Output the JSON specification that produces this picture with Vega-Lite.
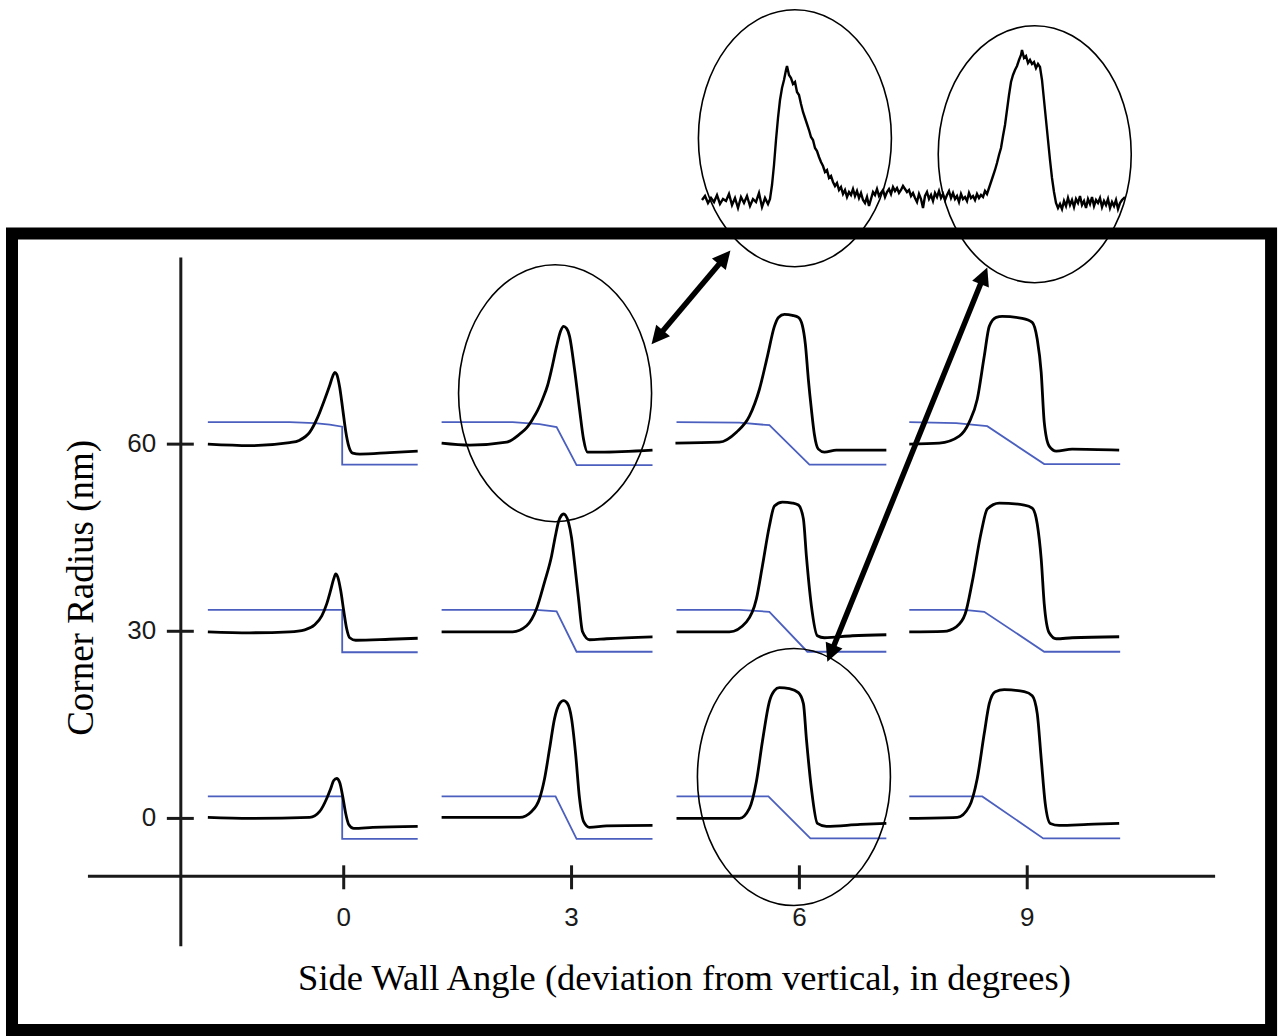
{
"$schema": "https://vega.github.io/schema/vega-lite/v6.json",
"width": 1278, "height": 1036,
"autosize": {"type": "fit", "contains": "padding"},
"padding": 0,
"background": "white",
"config": {"view": {"stroke": null}},
"datasets": {
"frame": [{"x": -4.368, "y": 93.76, "x2": 12.211, "y2": -33.92}],
"rules": [
{"x": -2.145, "y": 89.92, "x2": -2.145, "y2": -20.48},
{"x": -3.368, "y": -9.28, "x2": 11.474, "y2": -9.28},
{"x": -2.329, "y": 0, "x2": -1.974, "y2": 0},
{"x": -2.329, "y": 30, "x2": -1.974, "y2": 30},
{"x": -2.329, "y": 60, "x2": -1.974, "y2": 60},
{"x": 0, "y": -7.52, "x2": 0, "y2": -11.36},
{"x": 3, "y": -7.52, "x2": 3, "y2": -11.36},
{"x": 6, "y": -7.52, "x2": 6, "y2": -11.36},
{"x": 9, "y": -7.52, "x2": 9, "y2": -11.36}
],
"ylabels": [{"t": "60", "x": -2.47, "y": 60}, {"t": "30", "x": -2.47, "y": 30}, {"t": "0", "x": -2.47, "y": 0}],
"xlabels": [{"t": "0", "x": 0, "y": -16}, {"t": "3", "x": 3, "y": -16}, {"t": "6", "x": 6, "y": -16}, {"t": "9", "x": 9, "y": -16}],
"xtitle": [{"t": "Side Wall Angle (deviation from vertical, in degrees)", "x": 4.487, "y": -27.5}],
"ytitle": [{"t": "Corner Radius (nm)", "x": -3.447, "y": 36.96}],
"ellipses": [{"x": 5.941, "y": 109.04}, {"x": 9.099, "y": 106.48}, {"x": 2.783, "y": 68.16}, {"x": 5.928, "y": 6.64}],
"shafts": [{"x": 4.137, "y": 77.23, "x2": 5.008, "y2": 89.81}, {"x": 6.418, "y": 26.6, "x2": 8.424, "y2": 86.84}],
"heads": [{"x": 5.092, "y": 91.04, "a": 40}, {"x": 4.053, "y": 76.0, "a": 220}, {"x": 8.474, "y": 88.32, "a": 22}, {"x": 6.368, "y": 25.12, "a": 202}],
"black": [
{"c":"r60c0","x":-1.789,"y":60.0},{"c":"r60c0","x":-1.237,"y":59.76},{"c":"r60c0","x":-0.711,"y":60.24},{"c":"r60c0","x":-0.579,"y":60.64},{"c":"r60c0","x":-0.447,"y":61.92},{"c":"r60c0","x":-0.342,"y":64.32},{"c":"r60c0","x":-0.25,"y":67.2},{"c":"r60c0","x":-0.184,"y":69.44},{"c":"r60c0","x":-0.145,"y":70.88},{"c":"r60c0","x":-0.118,"y":71.52},{"c":"r60c0","x":-0.092,"y":71.2},{"c":"r60c0","x":-0.053,"y":69.12},{"c":"r60c0","x":-0.013,"y":65.6},{"c":"r60c0","x":0.026,"y":62.08},{"c":"r60c0","x":0.066,"y":59.68},{"c":"r60c0","x":0.118,"y":58.56},{"c":"r60c0","x":0.211,"y":58.4},{"c":"r60c0","x":0.605,"y":58.64},{"c":"r60c0","x":0.974,"y":58.88},
{"c":"r30c0","x":-1.789,"y":29.92},{"c":"r30c0","x":-1.237,"y":29.76},{"c":"r30c0","x":-0.711,"y":29.92},{"c":"r30c0","x":-0.513,"y":30.24},{"c":"r30c0","x":-0.382,"y":31.04},{"c":"r30c0","x":-0.289,"y":32.48},{"c":"r30c0","x":-0.224,"y":34.4},{"c":"r30c0","x":-0.171,"y":36.64},{"c":"r30c0","x":-0.132,"y":38.4},{"c":"r30c0","x":-0.105,"y":39.2},{"c":"r30c0","x":-0.079,"y":38.72},{"c":"r30c0","x":-0.039,"y":36.48},{"c":"r30c0","x":0,"y":33.28},{"c":"r30c0","x":0.039,"y":30.4},{"c":"r30c0","x":0.079,"y":28.96},{"c":"r30c0","x":0.158,"y":28.56},{"c":"r30c0","x":0.605,"y":28.72},{"c":"r30c0","x":0.974,"y":28.88},
{"c":"r0c0","x":-1.789,"y":0.16},{"c":"r0c0","x":-1.237,"y":0},{"c":"r0c0","x":-0.447,"y":0.16},{"c":"r0c0","x":-0.316,"y":1.12},{"c":"r0c0","x":-0.224,"y":3.2},{"c":"r0c0","x":-0.171,"y":4.8},{"c":"r0c0","x":-0.132,"y":6.08},{"c":"r0c0","x":-0.092,"y":6.4},{"c":"r0c0","x":-0.053,"y":5.76},{"c":"r0c0","x":-0.013,"y":3.52},{"c":"r0c0","x":0.026,"y":0.8},{"c":"r0c0","x":0.066,"y":-0.96},{"c":"r0c0","x":0.132,"y":-1.6},{"c":"r0c0","x":0.382,"y":-1.44},{"c":"r0c0","x":0.974,"y":-1.28},
{"c":"r60c3","x":1.289,"y":60.16},{"c":"r60c3","x":1.658,"y":59.84},{"c":"r60c3","x":2.145,"y":60.32},{"c":"r60c3","x":2.316,"y":61.6},{"c":"r60c3","x":2.408,"y":62.6},{"c":"r60c3","x":2.487,"y":64.0},{"c":"r60c3","x":2.553,"y":65.4},{"c":"r60c3","x":2.618,"y":67.2},{"c":"r60c3","x":2.684,"y":69.4},{"c":"r60c3","x":2.737,"y":72.0},{"c":"r60c3","x":2.803,"y":75.68},{"c":"r60c3","x":2.855,"y":78.08},{"c":"r60c3","x":2.895,"y":78.88},{"c":"r60c3","x":2.934,"y":78.56},{"c":"r60c3","x":2.974,"y":77.28},{"c":"r60c3","x":3.039,"y":72.0},{"c":"r60c3","x":3.105,"y":65.6},{"c":"r60c3","x":3.158,"y":60.8},{"c":"r60c3","x":3.211,"y":58.72},{"c":"r60c3","x":3.368,"y":58.72},{"c":"r60c3","x":4.066,"y":59.04},
{"c":"r30c3","x":1.289,"y":29.92},{"c":"r30c3","x":2.224,"y":29.92},{"c":"r30c3","x":2.408,"y":30.88},{"c":"r30c3","x":2.539,"y":33.6},{"c":"r30c3","x":2.645,"y":37.92},{"c":"r30c3","x":2.737,"y":42.08},{"c":"r30c3","x":2.789,"y":45.4},{"c":"r30c3","x":2.829,"y":47.6},{"c":"r30c3","x":2.868,"y":48.6},{"c":"r30c3","x":2.895,"y":48.8},{"c":"r30c3","x":2.921,"y":48.6},{"c":"r30c3","x":2.961,"y":47.4},{"c":"r30c3","x":3.0,"y":45.0},{"c":"r30c3","x":3.039,"y":41.0},{"c":"r30c3","x":3.092,"y":35.2},{"c":"r30c3","x":3.145,"y":29.92},{"c":"r30c3","x":3.237,"y":28.64},{"c":"r30c3","x":3.461,"y":28.8},{"c":"r30c3","x":4.066,"y":29.12},
{"c":"r0c3","x":1.289,"y":0.16},{"c":"r0c3","x":2.316,"y":0.16},{"c":"r0c3","x":2.474,"y":1.12},{"c":"r0c3","x":2.579,"y":3.2},{"c":"r0c3","x":2.645,"y":6.4},{"c":"r0c3","x":2.711,"y":11.2},{"c":"r0c3","x":2.776,"y":16.0},{"c":"r0c3","x":2.842,"y":18.4},{"c":"r0c3","x":2.895,"y":18.88},{"c":"r0c3","x":2.947,"y":18.4},{"c":"r0c3","x":3.0,"y":16.0},{"c":"r0c3","x":3.053,"y":10.4},{"c":"r0c3","x":3.105,"y":3.2},{"c":"r0c3","x":3.158,"y":-0.48},{"c":"r0c3","x":3.237,"y":-1.44},{"c":"r0c3","x":3.461,"y":-1.2},{"c":"r0c3","x":4.066,"y":-1.12},
{"c":"r60c6","x":4.368,"y":60.16},{"c":"r60c6","x":4.947,"y":60.32},{"c":"r60c6","x":5.171,"y":61.92},{"c":"r60c6","x":5.342,"y":64.48},{"c":"r60c6","x":5.474,"y":68.8},{"c":"r60c6","x":5.579,"y":74.08},{"c":"r60c6","x":5.671,"y":78.88},{"c":"r60c6","x":5.724,"y":80.32},{"c":"r60c6","x":5.803,"y":80.8},{"c":"r60c6","x":5.908,"y":80.64},{"c":"r60c6","x":5.987,"y":80.32},{"c":"r60c6","x":6.039,"y":79.04},{"c":"r60c6","x":6.079,"y":76.0},{"c":"r60c6","x":6.118,"y":70.4},{"c":"r60c6","x":6.158,"y":65.6},{"c":"r60c6","x":6.197,"y":61.6},{"c":"r60c6","x":6.25,"y":59.2},{"c":"r60c6","x":6.329,"y":58.72},{"c":"r60c6","x":6.487,"y":59.04},{"c":"r60c6","x":7.145,"y":59.04},
{"c":"r30c6","x":4.382,"y":29.92},{"c":"r30c6","x":5.079,"y":29.92},{"c":"r30c6","x":5.303,"y":31.52},{"c":"r30c6","x":5.434,"y":35.2},{"c":"r30c6","x":5.513,"y":40.48},{"c":"r30c6","x":5.605,"y":46.88},{"c":"r30c6","x":5.671,"y":50.08},{"c":"r30c6","x":5.776,"y":50.72},{"c":"r30c6","x":5.908,"y":50.56},{"c":"r30c6","x":5.987,"y":50.24},{"c":"r30c6","x":6.053,"y":48.0},{"c":"r30c6","x":6.092,"y":42.08},{"c":"r30c6","x":6.158,"y":34.08},{"c":"r30c6","x":6.237,"y":29.28},{"c":"r30c6","x":6.329,"y":28.96},{"c":"r30c6","x":6.697,"y":29.28},{"c":"r30c6","x":7.145,"y":29.44},
{"c":"r0c6","x":4.382,"y":0},{"c":"r0c6","x":5.211,"y":0},{"c":"r0c6","x":5.342,"y":1.6},{"c":"r0c6","x":5.434,"y":5.92},{"c":"r0c6","x":5.513,"y":12.32},{"c":"r0c6","x":5.605,"y":18.72},{"c":"r0c6","x":5.671,"y":20.48},{"c":"r0c6","x":5.737,"y":20.96},{"c":"r0c6","x":5.868,"y":20.8},{"c":"r0c6","x":5.987,"y":20.16},{"c":"r0c6","x":6.053,"y":18.4},{"c":"r0c6","x":6.092,"y":12.8},{"c":"r0c6","x":6.158,"y":4.8},{"c":"r0c6","x":6.237,"y":-0.8},{"c":"r0c6","x":6.355,"y":-1.28},{"c":"r0c6","x":6.8,"y":-0.96},{"c":"r0c6","x":7.145,"y":-0.8},
{"c":"r60c9","x":7.447,"y":60.0},{"c":"r60c9","x":7.842,"y":60.16},{"c":"r60c9","x":8.105,"y":61.28},{"c":"r60c9","x":8.237,"y":63.52},{"c":"r60c9","x":8.342,"y":67.2},{"c":"r60c9","x":8.434,"y":74.08},{"c":"r60c9","x":8.5,"y":78.88},{"c":"r60c9","x":8.592,"y":80.32},{"c":"r60c9","x":8.671,"y":80.48},{"c":"r60c9","x":8.934,"y":80.16},{"c":"r60c9","x":9.066,"y":79.52},{"c":"r60c9","x":9.132,"y":76.8},{"c":"r60c9","x":9.184,"y":71.52},{"c":"r60c9","x":9.224,"y":63.52},{"c":"r60c9","x":9.289,"y":59.68},{"c":"r60c9","x":9.382,"y":58.88},{"c":"r60c9","x":9.592,"y":59.2},{"c":"r60c9","x":10.211,"y":59.04},
{"c":"r30c9","x":7.447,"y":29.92},{"c":"r30c9","x":7.9,"y":30.0},{"c":"r30c9","x":8.066,"y":30.72},{"c":"r30c9","x":8.184,"y":32.8},{"c":"r30c9","x":8.276,"y":37.92},{"c":"r30c9","x":8.395,"y":45.92},{"c":"r30c9","x":8.474,"y":49.6},{"c":"r30c9","x":8.632,"y":50.56},{"c":"r30c9","x":8.961,"y":50.24},{"c":"r30c9","x":9.066,"y":49.76},{"c":"r30c9","x":9.132,"y":47.2},{"c":"r30c9","x":9.184,"y":41.6},{"c":"r30c9","x":9.224,"y":34.4},{"c":"r30c9","x":9.289,"y":29.76},{"c":"r30c9","x":9.382,"y":28.8},{"c":"r30c9","x":9.592,"y":28.96},{"c":"r30c9","x":10.211,"y":29.12},
{"c":"r0c9","x":7.447,"y":0},{"c":"r0c9","x":8.079,"y":0.16},{"c":"r0c9","x":8.237,"y":1.92},{"c":"r0c9","x":8.342,"y":6.4},{"c":"r0c9","x":8.434,"y":13.6},{"c":"r0c9","x":8.5,"y":18.4},{"c":"r0c9","x":8.579,"y":20.32},{"c":"r0c9","x":8.697,"y":20.64},{"c":"r0c9","x":8.961,"y":20.32},{"c":"r0c9","x":9.066,"y":19.68},{"c":"r0c9","x":9.132,"y":16.8},{"c":"r0c9","x":9.184,"y":9.6},{"c":"r0c9","x":9.237,"y":2.4},{"c":"r0c9","x":9.303,"y":-0.8},{"c":"r0c9","x":9.421,"y":-1.12},{"c":"r0c9","x":9.8,"y":-0.96},{"c":"r0c9","x":10.211,"y":-0.8}
],
"blue": [
{"c":"b60c0","x":-1.789,"y":63.52},{"c":"b60c0","x":-0.711,"y":63.52},{"c":"b60c0","x":-0.382,"y":63.36},{"c":"b60c0","x":-0.184,"y":63.12},{"c":"b60c0","x":-0.02,"y":62.8},{"c":"b60c0","x":-0.02,"y":56.72},{"c":"b60c0","x":0.974,"y":56.72},
{"c":"b30c0","x":-1.789,"y":33.44},{"c":"b30c0","x":-0.02,"y":33.44},{"c":"b30c0","x":-0.02,"y":26.64},{"c":"b30c0","x":0.974,"y":26.64},
{"c":"b0c0","x":-1.789,"y":3.52},{"c":"b0c0","x":-0.02,"y":3.52},{"c":"b0c0","x":-0.02,"y":-3.28},{"c":"b0c0","x":0.974,"y":-3.28},
{"c":"b60c3","x":1.289,"y":63.52},{"c":"b60c3","x":2.224,"y":63.52},{"c":"b60c3","x":2.579,"y":63.2},{"c":"b60c3","x":2.803,"y":62.72},{"c":"b60c3","x":3.066,"y":56.64},{"c":"b60c3","x":4.066,"y":56.64},
{"c":"b30c3","x":1.289,"y":33.44},{"c":"b30c3","x":2.53,"y":33.44},{"c":"b30c3","x":2.803,"y":33.2},{"c":"b30c3","x":3.066,"y":26.72},{"c":"b30c3","x":4.066,"y":26.72},
{"c":"b0c3","x":1.289,"y":3.52},{"c":"b0c3","x":2.789,"y":3.52},{"c":"b0c3","x":3.066,"y":-3.28},{"c":"b0c3","x":4.066,"y":-3.28},
{"c":"b60c6","x":4.382,"y":63.52},{"c":"b60c6","x":5.211,"y":63.44},{"c":"b60c6","x":5.605,"y":63.04},{"c":"b60c6","x":6.132,"y":56.72},{"c":"b60c6","x":7.145,"y":56.72},
{"c":"b30c6","x":4.382,"y":33.44},{"c":"b30c6","x":5.211,"y":33.44},{"c":"b30c6","x":5.605,"y":33.12},{"c":"b30c6","x":6.105,"y":26.72},{"c":"b30c6","x":7.145,"y":26.72},
{"c":"b0c6","x":4.382,"y":3.52},{"c":"b0c6","x":5.592,"y":3.52},{"c":"b0c6","x":6.145,"y":-3.2},{"c":"b0c6","x":7.145,"y":-3.2},
{"c":"b60c9","x":7.447,"y":63.52},{"c":"b60c9","x":8.066,"y":63.36},{"c":"b60c9","x":8.474,"y":62.88},{"c":"b60c9","x":9.224,"y":56.8},{"c":"b60c9","x":10.224,"y":56.8},
{"c":"b30c9","x":7.447,"y":33.44},{"c":"b30c9","x":8.171,"y":33.44},{"c":"b30c9","x":8.434,"y":33.12},{"c":"b30c9","x":9.224,"y":26.72},{"c":"b30c9","x":10.224,"y":26.72},
{"c":"b0c9","x":7.447,"y":3.52},{"c":"b0c9","x":8.408,"y":3.52},{"c":"b0c9","x":9.211,"y":-3.2},{"c":"b0c9","x":10.224,"y":-3.2}
],
"trace": [
{"x":2,"y":10},{"x":5,"y":14},{"x":8,"y":7},{"x":11,"y":12},{"x":14,"y":8},{"x":17,"y":15},{"x":20,"y":6},{"x":23,"y":11},{"x":26,"y":9},{"x":29,"y":16},{"x":32,"y":5},{"x":35,"y":12},{"x":38,"y":2},{"x":41,"y":13},{"x":44,"y":7},{"x":47,"y":14},{"x":50,"y":4},{"x":53,"y":11},{"x":56,"y":8},{"x":59,"y":17},{"x":62,"y":3},{"x":65,"y":12},{"x":68,"y":6},{"x":70,"y":11},
{"x":72,"y":25},{"x":74,"y":45},{"x":76,"y":70},{"x":78,"y":92},{"x":80,"y":110},{"x":82,"y":122},{"x":84,"y":130},{"x":86,"y":140},{"x":87,"y":144},{"x":89,"y":135},{"x":91,"y":132},{"x":93,"y":126},{"x":95,"y":128},{"x":97,"y":118},{"x":99,"y":115},{"x":101,"y":106},{"x":103,"y":98},{"x":105,"y":92},{"x":107,"y":86},{"x":109,"y":80},{"x":111,"y":73},{"x":113,"y":70},{"x":115,"y":62},{"x":117,"y":59},{"x":119,"y":53},{"x":121,"y":48},{"x":123,"y":44},{"x":125,"y":38},{"x":127,"y":40},{"x":129,"y":32},{"x":131,"y":34},{"x":133,"y":28},{"x":135,"y":24},{"x":137,"y":27},{"x":139,"y":20},{"x":141,"y":23},{"x":143,"y":16},{"x":145,"y":20},{"x":147,"y":13},{"x":149,"y":18},{"x":151,"y":15},{"x":153,"y":21},{"x":155,"y":14},{"x":157,"y":19},{"x":159,"y":12},{"x":161,"y":17},{"x":163,"y":10},{"x":165,"y":7},{"x":167,"y":13},{"x":169,"y":4},{"x":171,"y":11},{"x":173,"y":18},{"x":175,"y":15},{"x":177,"y":21},{"x":179,"y":14},{"x":181,"y":17},{"x":183,"y":20},{"x":185,"y":13},{"x":187,"y":18},{"x":189,"y":21},{"x":191,"y":16},{"x":193,"y":23},{"x":195,"y":19},{"x":197,"y":22},{"x":199,"y":17},{"x":201,"y":20},{"x":203,"y":24},{"x":205,"y":21},{"x":207,"y":18},{"x":209,"y":20},{"x":211,"y":14},{"x":213,"y":17},{"x":215,"y":12},{"x":217,"y":8},{"x":219,"y":16},{"x":221,"y":11},{"x":223,"y":2},{"x":225,"y":14},{"x":227,"y":18},{"x":229,"y":11},{"x":231,"y":15},{"x":233,"y":9},{"x":235,"y":17},{"x":237,"y":13},{"x":239,"y":19},{"x":241,"y":12},{"x":243,"y":16},{"x":245,"y":10},{"x":247,"y":15},{"x":249,"y":19},{"x":251,"y":12},{"x":253,"y":17},{"x":255,"y":11},{"x":257,"y":14},{"x":259,"y":8},{"x":261,"y":16},{"x":263,"y":11},{"x":265,"y":13},{"x":267,"y":9},{"x":269,"y":17},{"x":271,"y":12},{"x":273,"y":14},{"x":275,"y":10},{"x":277,"y":16},{"x":279,"y":12},{"x":281,"y":15},{"x":283,"y":13},{"x":285,"y":19},{"x":287,"y":16},{"x":289,"y":22},
{"x":291,"y":28},{"x":293,"y":34},{"x":295,"y":40},{"x":297,"y":47},{"x":299,"y":55},{"x":301,"y":62},{"x":303,"y":74},{"x":305,"y":85},{"x":307,"y":100},{"x":309,"y":115},{"x":311,"y":128},{"x":313,"y":135},{"x":315,"y":140},{"x":317,"y":144},{"x":319,"y":150},{"x":321,"y":155},{"x":322,"y":160},{"x":324,"y":152},{"x":326,"y":154},{"x":328,"y":147},{"x":330,"y":150},{"x":332,"y":146},{"x":334,"y":148},{"x":336,"y":142},{"x":338,"y":146},{"x":340,"y":143},{"x":342,"y":130},{"x":344,"y":110},{"x":346,"y":90},{"x":348,"y":70},{"x":350,"y":50},{"x":352,"y":32},{"x":354,"y":18},{"x":356,"y":7},{"x":358,"y":2},{"x":360,"y":6},{"x":362,"y":1},{"x":364,"y":9},{"x":366,"y":4},{"x":368,"y":12},{"x":370,"y":5},{"x":372,"y":10},{"x":374,"y":3},{"x":376,"y":11},{"x":378,"y":7},{"x":380,"y":14},{"x":382,"y":5},{"x":384,"y":9},{"x":386,"y":2},{"x":388,"y":11},{"x":390,"y":6},{"x":392,"y":13},{"x":394,"y":4},{"x":396,"y":10},{"x":398,"y":7},{"x":400,"y":12},{"x":402,"y":3},{"x":404,"y":9},{"x":406,"y":5},{"x":408,"y":11},{"x":410,"y":2},{"x":412,"y":8},{"x":414,"y":4},{"x":416,"y":10},{"x":418,"y":1},{"x":420,"y":7},{"x":422,"y":10},{"x":425,"y":13}
]
},
"layer": [
{
"encoding": {
"x": {"field": "x", "type": "quantitative", "scale": {"domain": [-4.526, 12.289], "nice": false, "zero": false}, "axis": null},
"y": {"field": "y", "type": "quantitative", "scale": {"domain": [-34.56, 131.2], "nice": false, "zero": false}, "axis": null}
},
"layer": [
{"data": {"name": "frame"}, "mark": {"type": "rect", "filled": false, "stroke": "black", "strokeWidth": 12}, "encoding": {"x2": {"field": "x2"}, "y2": {"field": "y2"}}},
{"data": {"name": "rules"}, "mark": {"type": "rule", "stroke": "#1a1a1a", "strokeWidth": 3}, "encoding": {"x2": {"field": "x2"}, "y2": {"field": "y2"}}},
{"data": {"name": "blue"}, "mark": {"type": "line", "stroke": "#4b5fbf", "strokeWidth": 1.8}, "encoding": {"detail": {"field": "c"}, "order": {"value": null}}},
{"data": {"name": "black"}, "mark": {"type": "line", "stroke": "black", "strokeWidth": 2.8, "interpolate": "monotone"}, "encoding": {"detail": {"field": "c"}, "order": {"value": null}}},
{"data": {"name": "ylabels"}, "mark": {"type": "text", "font": "Liberation Sans", "fontSize": 26, "align": "right", "baseline": "middle", "color": "#1a1a1a"}, "encoding": {"text": {"field": "t"}}},
{"data": {"name": "xlabels"}, "mark": {"type": "text", "font": "Liberation Sans", "fontSize": 26, "align": "center", "baseline": "middle", "color": "#1a1a1a"}, "encoding": {"text": {"field": "t"}}},
{"data": {"name": "xtitle"}, "mark": {"type": "text", "font": "Liberation Serif", "fontSize": 36.5, "align": "center", "baseline": "alphabetic", "color": "black"}, "encoding": {"text": {"field": "t"}}},
{"data": {"name": "ytitle"}, "mark": {"type": "text", "font": "Liberation Serif", "fontSize": 37, "align": "center", "baseline": "middle", "angle": 270, "color": "black"}, "encoding": {"text": {"field": "t"}}},
{"data": {"name": "ellipses"}, "mark": {"type": "point", "shape": "M0,-1C0.4148,-1,0.751,-0.5523,0.751,0C0.751,0.5523,0.4148,1,0,1C-0.4148,1,-0.751,0.5523,-0.751,0C-0.751,-0.5523,-0.4148,-1,0,-1Z", "size": 66049, "filled": false, "stroke": "black", "strokeWidth": 1.6, "opacity": 1}},
{"data": {"name": "shafts"}, "mark": {"type": "rule", "stroke": "black", "strokeWidth": 5.5}, "encoding": {"x2": {"field": "x2"}, "y2": {"field": "y2"}}},
{"data": {"name": "heads"}, "mark": {"type": "point", "shape": "M0,0L0.5,1L-0.5,1Z", "size": 1296, "filled": true, "color": "black", "opacity": 1}, "encoding": {"angle": {"field": "a", "type": "quantitative", "scale": null}}}
]
},
{
"data": {"name": "trace"},
"mark": {"type": "line", "stroke": "black", "strokeWidth": 2.4},
"encoding": {
"x": {"field": "x", "type": "quantitative", "scale": {"domain": [0, 430], "range": [700, 1130], "nice": false, "zero": false}, "axis": null},
"y": {"field": "y", "type": "quantitative", "scale": {"domain": [0, 210], "range": [210, 0], "nice": false, "zero": false}, "axis": null}
}
}
],
"resolve": {"scale": {"x": "independent", "y": "independent"}}
}
